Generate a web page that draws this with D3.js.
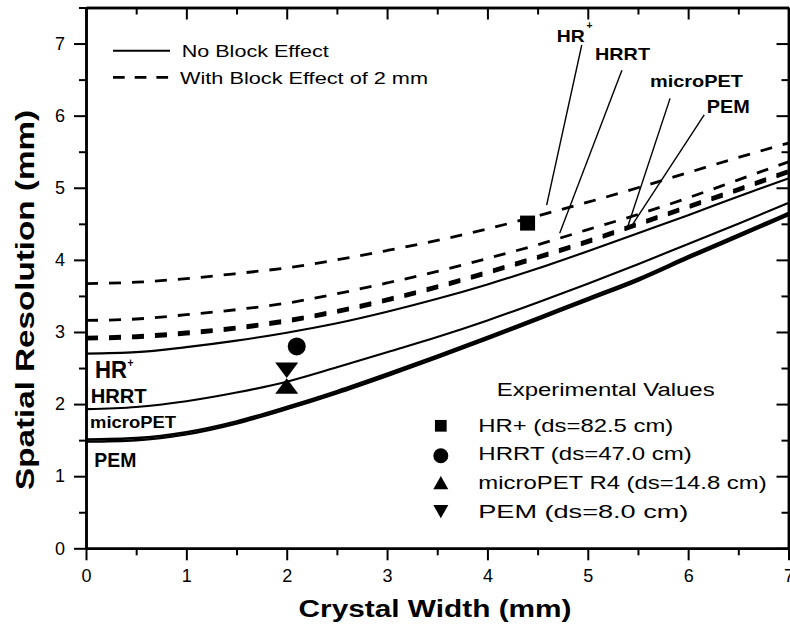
<!DOCTYPE html>
<html>
<head>
<meta charset="utf-8">
<script src="https://cdn.jsdelivr.net/npm/d3@7/dist/d3.min.js"></script>
<style>
  html, body { margin: 0; padding: 0; background: #fff; }
  svg { display: block; }
  text { font-family: "Liberation Sans", Arial, Helvetica, sans-serif; fill: #000; }
</style>
</head>
<body>
<svg id="chart" width="790" height="630"></svg>
<script>
// ---------------- DATA ----------------
const crystalWidth = [0, 0.5, 1, 1.5, 2, 2.5, 3, 3.5, 4, 4.5, 5, 5.5, 6, 6.5, 7];

// No block effect (solid)
const hrPlusSolid   = [2.70, 2.72, 2.79, 2.88, 2.99, 3.12, 3.28, 3.46, 3.66, 3.88, 4.12, 4.37, 4.62, 4.88, 5.13];
const hrrtSolid     = [1.93, 1.96, 2.04, 2.16, 2.31, 2.51, 2.72, 2.93, 3.16, 3.41, 3.67, 3.94, 4.22, 4.50, 4.79];
const microPetSolid = [1.51, 1.53, 1.61, 1.76, 1.96, 2.18, 2.42, 2.67, 2.93, 3.20, 3.47, 3.74, 4.05, 4.35, 4.65];
const pemSolid      = [1.48, 1.50, 1.58, 1.73, 1.93, 2.15, 2.39, 2.64, 2.90, 3.17, 3.44, 3.71, 4.02, 4.32, 4.62];

// With block effect of 2 mm (dashed)
const hrPlusDashed   = [3.67, 3.69, 3.74, 3.81, 3.89, 4.00, 4.13, 4.27, 4.43, 4.61, 4.80, 5.00, 5.21, 5.42, 5.62];
const hrrtDashed     = [3.16, 3.18, 3.24, 3.31, 3.40, 3.53, 3.68, 3.84, 4.02, 4.21, 4.42, 4.63, 4.86, 5.11, 5.36];
const microPetDashed = [2.93, 2.95, 3.00, 3.07, 3.17, 3.30, 3.46, 3.64, 3.84, 4.05, 4.27, 4.51, 4.75, 4.99, 5.24];
const pemDashed      = [2.90, 2.92, 2.97, 3.04, 3.14, 3.27, 3.43, 3.61, 3.81, 4.02, 4.24, 4.48, 4.72, 4.96, 5.21];

// Experimental values
const expNames  = ["HR+ (ds=82.5 cm)", "HRRT (ds=47.0 cm)", "microPET R4 (ds=14.8 cm)", "PEM (ds=8.0 cm)"];
const expSymbol = ["square", "circle", "triangleUp", "triangleDown"];
const expX      = [4.4, 2.1, 2.0, 2.0];
const expY      = [4.51, 2.80, 2.25, 2.47];

// Axis ticks
const xTicks = [0, 1, 2, 3, 4, 5, 6, 7];
const yTicks = [0, 1, 2, 3, 4, 5, 6, 7];
const xMinor = [0.5, 1.5, 2.5, 3.5, 4.5, 5.5, 6.5];
const yMinor = [0.5, 1.5, 2.5, 3.5, 4.5, 5.5, 6.5, 7.5];

// Annotation pointer lines (data units: label end -> curve end)
const pointerNames = ["HR+", "HRRT", "microPET", "PEM"];
const pointerFrom  = [[4.94, 6.98], [5.34, 6.63], [5.82, 6.24], [6.16, 6.01]];
const pointerTo    = [[4.59, 4.76], [4.72, 4.37], [5.40, 4.47], [5.45, 4.50]];

// ---------------- CHART ----------------
const svg = d3.select("#chart");
const M = {left: 86, right: 788.5, top: 7.5, bottom: 548.3};
const x = d3.scaleLinear().domain([0, 7]).range([M.left, M.right]);
const y = d3.scaleLinear().domain([0, 7.5]).range([M.bottom, M.top]);

const line = d3.line().x(d => x(d[0])).y(d => y(d[1])).curve(d3.curveMonotoneX);
const pts = vals => crystalWidth.map((w, i) => [w, vals[i]]);

const plot = svg.append("g");
plot.append("clipPath").attr("id", "clip").append("rect")
  .attr("x", M.left).attr("y", M.top).attr("width", M.right - M.left).attr("height", M.bottom - M.top);
const curves = plot.append("g").attr("clip-path", "url(#clip)");

const dash = "12,11";
const series = [
  {v: hrPlusDashed, w: 2.8, d: dash},
  {v: hrrtDashed, w: 2.8, d: dash},
  {v: microPetDashed, w: 2.8, d: dash},
  {v: pemDashed, w: 2.8, d: dash},
  {v: hrPlusSolid, w: 2.1, d: null},
  {v: hrrtSolid, w: 2.1, d: null},
  {v: microPetSolid, w: 2.5, d: null},
  {v: pemSolid, w: 2.5, d: null}
];
series.forEach(s => {
  curves.append("path").datum(pts(s.v))
    .attr("d", line).attr("fill", "none").attr("stroke", "#000")
    .attr("stroke-width", s.w)
    .attr("stroke-dasharray", s.d);
});

// marker drawing
function marker(g, type, cx, cy, big) {
  if (type === "square") {
    const s = (big ? 15 : 11.7);
    g.append("rect").attr("x", cx - s / 2).attr("y", cy - s / 2).attr("width", s).attr("height", s).attr("fill", "#000");
  } else if (type === "circle") {
    g.append("circle").attr("cx", cx).attr("cy", cy).attr("r", big ? 9 : 7.5).attr("fill", "#000");
  } else {
    const w = big ? 23 : 15, h = big ? 15.5 : 13.3;
    const up = type === "triangleUp";
    const p = up
      ? `M${cx - w / 2},${cy + h / 2}L${cx + w / 2},${cy + h / 2}L${cx},${cy - h / 2}Z`
      : `M${cx - w / 2},${cy - h / 2}L${cx + w / 2},${cy - h / 2}L${cx},${cy + h / 2}Z`;
    g.append("path").attr("d", p).attr("fill", "#000");
  }
}
const mk = plot.append("g");
expX.forEach((v, i) => marker(mk, expSymbol[i], x(v), y(expY[i]), true));

// pointer lines
pointerNames.forEach((n, i) => {
  plot.append("line")
    .attr("x1", x(pointerFrom[i][0])).attr("y1", y(pointerFrom[i][1]))
    .attr("x2", x(pointerTo[i][0])).attr("y2", y(pointerTo[i][1]))
    .attr("stroke", "#000").attr("stroke-width", 1.4);
});

// ---------------- AXES ----------------
function styleAxis(g) {
  g.select(".domain").attr("stroke-width", 2.5).attr("stroke", "#000");
  g.selectAll(".tick line").attr("stroke-width", 2).attr("stroke", "#000");
  g.selectAll(".tick text").attr("font-size", 18).attr("font-family", "Liberation Sans, Arial, sans-serif").attr("fill", "#000");
}
const gB = svg.append("g").attr("transform", `translate(0,${M.bottom})`)
  .call(d3.axisBottom(x).tickValues(xTicks).tickSize(12).tickSizeOuter(0).tickPadding(9).tickFormat(d3.format("d")));
styleAxis(gB);
const gBm = svg.append("g").attr("transform", `translate(0,${M.bottom})`)
  .call(d3.axisBottom(x).tickValues(xMinor).tickSize(7).tickSizeOuter(0).tickFormat(""));
styleAxis(gBm);

const gL = svg.append("g").attr("transform", `translate(${M.left},0)`)
  .call(d3.axisLeft(y).tickValues(yTicks).tickSize(12).tickSizeOuter(0).tickPadding(9).tickFormat(d3.format("d")));
styleAxis(gL);
const gLm = svg.append("g").attr("transform", `translate(${M.left},0)`)
  .call(d3.axisLeft(y).tickValues(yMinor).tickSize(7).tickSizeOuter(0).tickFormat(""));
styleAxis(gLm);

const gT = svg.append("g").attr("transform", `translate(0,${M.top})`)
  .call(d3.axisTop(x).tickValues(xTicks).tickSize(-12).tickSizeOuter(0).tickFormat(""));
styleAxis(gT);
const gTm = svg.append("g").attr("transform", `translate(0,${M.top})`)
  .call(d3.axisTop(x).tickValues(xMinor).tickSize(-7).tickSizeOuter(0).tickFormat(""));
styleAxis(gTm);

const gR = svg.append("g").attr("transform", `translate(${M.right},0)`)
  .call(d3.axisRight(y).tickValues(yTicks).tickSize(-12).tickSizeOuter(0).tickFormat(""));
styleAxis(gR);
const gRm = svg.append("g").attr("transform", `translate(${M.right},0)`)
  .call(d3.axisRight(y).tickValues(yMinor).tickSize(-7).tickSizeOuter(0).tickFormat(""));
styleAxis(gRm);

// Axis titles
svg.append("text").attr("x", 435).attr("y", 617).attr("text-anchor", "middle")
  .attr("font-size", 23).attr("font-weight", "bold")
  .attr("textLength", 273).attr("lengthAdjust", "spacingAndGlyphs")
  .text("Crystal Width (mm)");
svg.append("text").attr("transform", "translate(34,300) rotate(-90)").attr("text-anchor", "middle")
  .attr("font-size", 25).attr("font-weight", "bold")
  .attr("textLength", 380).attr("lengthAdjust", "spacingAndGlyphs")
  .text("Spatial Resolution (mm)");

// ---------------- TEXT HELPERS ----------------
function label(txt, px, py, size, bold, len) {
  const t = svg.append("text").attr("x", px).attr("y", py)
    .attr("font-size", size).attr("font-weight", bold ? "bold" : "normal").text(txt);
  if (len) t.attr("textLength", len).attr("lengthAdjust", "spacingAndGlyphs");
  return t;
}

// Line-style legend (top-left)
svg.append("line").attr("x1", 113).attr("x2", 170).attr("y1", 50.7).attr("y2", 50.7)
  .attr("stroke", "#000").attr("stroke-width", 2.1);
svg.append("line").attr("x1", 113).attr("x2", 170).attr("y1", 77.3).attr("y2", 77.3)
  .attr("stroke", "#000").attr("stroke-width", 2.8).attr("stroke-dasharray", "11.7,10");
label("No Block Effect", 181.7, 57.3, 17, false, 147);
label("With Block Effect of 2 mm", 180, 84, 17, false, 248);

// Experimental legend
label("Experimental Values", 496.7, 396, 18, false, 218);
const expLegendY = [431.7, 460, 489, 518.3];
const expMarkY = [425.8, 455.8, 482.7, 511.7];
const expLegendW = [195, 213.4, 288.4, 210];
expNames.forEach((n, i) => {
  label(n, 478.3, expLegendY[i], 19, false, expLegendW[i]);
  marker(svg, expSymbol[i], 440.8, expMarkY[i], false);
});

// Curve labels (left)
label("HR", 95, 378, 23, true, 32);
label("+", 127.5, 367, 12, true, 6);
label("HRRT", 90.7, 403, 20, true, 56);
label("microPET", 90, 428.3, 16.5, true, 86);
label("PEM", 94.3, 466.7, 20, true, 42);

// Curve labels (right, with pointers)
label("HR", 556.7, 41.7, 17, true, 28);
label("+", 586.5, 29, 11, true, 6);
label("HRRT", 595, 60, 17, true, 55);
label("microPET", 650, 86.7, 17, true, 93);
label("PEM", 706.7, 113.3, 18, true, 43);
</script>
</body>
</html>
